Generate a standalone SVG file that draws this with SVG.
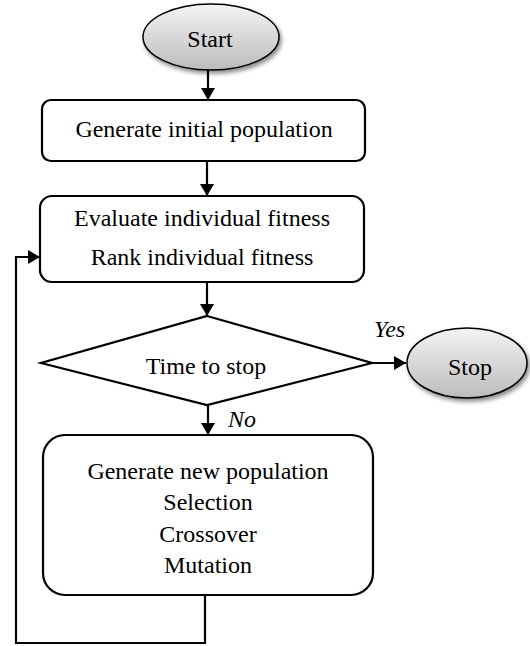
<svg xmlns="http://www.w3.org/2000/svg" width="530" height="646" viewBox="0 0 530 646">
<style>
text{font-family:"Liberation Serif","Times New Roman",serif;font-size:24px;fill:#000;text-anchor:middle}
.lbl{font-style:italic;text-anchor:start}
.box{fill:#fff;stroke:#000;stroke-width:2.2}
.term{fill:url(#g);stroke:#000;stroke-width:1.5;filter:url(#sh)}
.con{fill:none;stroke:#000;stroke-width:2.2}
</style>
<defs>
<linearGradient id="g" x1="0" y1="0" x2="0" y2="1">
<stop offset="0" stop-color="#f4f4f4"/>
<stop offset="1" stop-color="#bcbcbc"/>
</linearGradient>
<filter id="sh" x="-20%" y="-20%" width="150%" height="160%">
<feDropShadow dx="2" dy="3" stdDeviation="2" flood-color="#000" flood-opacity="0.45"/>
</filter>
<marker id="a" viewBox="0 0 12 14" refX="12" refY="7" markerWidth="12" markerHeight="14" markerUnits="userSpaceOnUse" orient="auto">
<path d="M0,0 L12,7 L0,14 Z" fill="#000"/>
</marker>
</defs>
<g id="connectors">
<line class="con" x1="208" y1="70" x2="208" y2="100" marker-end="url(#a)"/>
<line class="con" x1="207" y1="161" x2="207" y2="196" marker-end="url(#a)"/>
<line class="con" x1="207" y1="282" x2="207" y2="316" marker-end="url(#a)"/>
<line class="con" x1="372" y1="363" x2="406" y2="363" marker-end="url(#a)"/>
<line class="con" x1="208" y1="405" x2="208" y2="435" marker-end="url(#a)"/>
<polyline class="con" points="205,595 205,643 16,643 16,257 40,257" marker-end="url(#a)"/>
<text class="lbl" x="374" y="337">Yes</text>
<text class="lbl" x="228" y="427">No</text>
</g>
<g id="start">
<ellipse class="term" cx="211" cy="37" rx="68" ry="33"/>
<text x="210" y="47">Start</text>
</g>
<g id="init">
<rect class="box" x="42" y="100" width="323" height="61" rx="9"/>
<text x="204" y="137">Generate initial population</text>
</g>
<g id="evaluate">
<rect class="box" x="40" y="196" width="324" height="86" rx="12"/>
<text x="202" y="226">Evaluate individual fitness</text>
<text x="202" y="265">Rank individual fitness</text>
</g>
<g id="decision">
<polygon class="box" points="207,316 372,363 207,405 41,363"/>
<text x="206" y="374">Time to stop</text>
</g>
<g id="stop">
<ellipse class="term" cx="467" cy="363" rx="60" ry="35"/>
<text x="470" y="375">Stop</text>
</g>
<g id="newpop">
<rect class="box" x="43" y="435" width="330" height="160" rx="22"/>
<text x="208" y="479">Generate new population</text>
<text x="208" y="510">Selection</text>
<text x="208" y="542">Crossover</text>
<text x="208" y="573">Mutation</text>
</g>
</svg>
